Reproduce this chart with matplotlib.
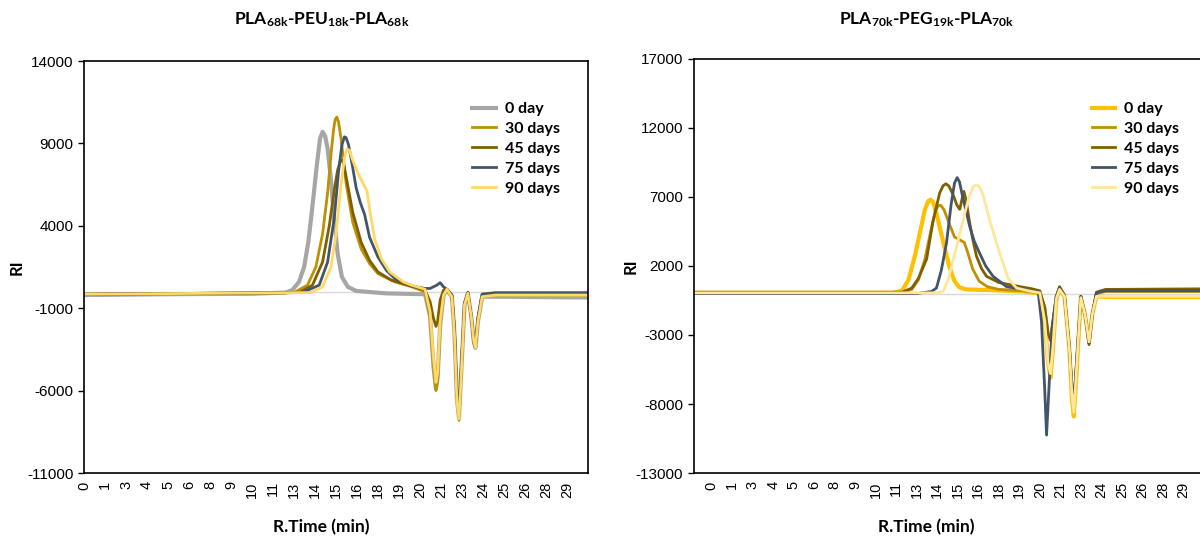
import numpy as np
import matplotlib.pyplot as plt

plt.rcParams['font.family'] = ['Liberation Sans', 'DejaVu Sans']
plt.rcParams['mathtext.default'] = 'regular'
plt.rcParams['axes.unicode_minus'] = False

labels = ['0 day', '30 days', '45 days', '75 days', '90 days']

# ---- left chart: PLA68k-PEU18k-PLA68k  (time in min, RI)
L0_t = [0, 5, 10, 12.0, 12.4, 12.8, 13.1, 13.35, 13.6, 13.85, 14.05, 14.2, 14.35, 14.5, 14.7, 14.9, 15.1, 15.35, 15.7, 16.2, 18, 20.3,
        20.6, 20.8, 20.95, 21.05, 21.2, 21.4, 21.6, 21.9, 22.05, 22.2, 22.32, 22.45, 22.65, 22.85, 23.05, 23.2, 23.3, 23.45, 23.7, 24.5, 30]
L0_v = [-200, -150, -120, -50, 100, 600, 1500, 3000, 5200, 7600, 9300, 9700, 9450, 8700, 6800, 4300, 2300, 900, 300, 50, -100, -150,
        -1500, -4500, -5900, -5200, -2000, -200, 100, -300, -2500, -6500, -7600, -5000, -800, -100, -1500, -3000, -3400, -1800, -300, -300, -350]

L30_t = [0, 10, 12.5, 13.3, 13.8, 14.2, 14.5, 14.7, 14.85, 14.95, 15.05, 15.15, 15.3, 15.6, 16.0, 16.5, 17.0, 17.5, 18.5, 19.5, 20.3,
         20.6, 20.8, 20.95, 21.05, 21.2, 21.4, 21.6, 21.9, 22.05, 22.2, 22.32, 22.45, 22.65, 22.85, 23.05, 23.2, 23.3, 23.45, 23.7, 24.5, 30]
L30_v = [-150, -100, -50, 400, 1500, 3500, 6000, 8300, 9800, 10450, 10600, 10300, 9300, 6600, 4200, 2600, 1700, 1100, 600, 300, 0,
         -1500, -4500, -6000, -5300, -2000, -200, 150, -300, -2500, -6700, -7800, -5000, -800, -100, -1500, -2900, -3300, -1800, -300, -200, -200]

L45_t = [0, 12.8, 13.6, 14.2, 14.6, 14.9, 15.1, 15.25, 15.35, 15.45, 15.6, 16.0, 16.5, 17.0, 17.5, 18.3, 19.0, 19.5, 20.3,
         20.6, 20.8, 20.95, 21.05, 21.2, 21.4, 21.6, 21.9, 22.05, 22.2, 22.32, 22.45, 22.65, 22.85, 23.05, 23.2, 23.3, 23.45, 23.7, 24.5, 30]
L45_v = [-150, -50, 400, 1800, 4000, 6200, 7400, 7900, 8000, 7800, 7000, 4800, 3000, 1900, 1200, 700, 500, 350, 100,
         -600, -1600, -2100, -1800, -500, 100, 150, -200, -2300, -6300, -7300, -4800, -700, -50, -1500, -2900, -3200, -1600, -150, -50, -50]

L75_t = [0, 13.0, 14.0, 14.5, 14.9, 15.15, 15.35, 15.5, 15.6, 15.75, 15.95, 16.2, 16.45, 16.7, 17.0, 17.5, 18.0, 18.5, 19.5, 20.3,
         20.6, 21.0, 21.2, 21.4, 21.6, 21.9, 22.05, 22.2, 22.32, 22.45, 22.65, 22.85, 23.05, 23.2, 23.3, 23.45, 23.7, 24.5, 30]
L75_v = [-150, -50, 400, 1800, 4500, 7300, 8900, 9400, 9350, 8900, 7800, 6300, 5400, 4700, 3300, 2100, 1300, 800, 350, 200,
         200, 400, 550, 300, 150, -200, -2300, -6300, -7300, -4800, -700, -50, -1500, -3100, -3400, -1600, -150, -100, -100]

L90_t = [0, 13.5, 14.2, 14.7, 15.0, 15.3, 15.5, 15.65, 15.8, 15.95, 16.3, 16.6, 16.85, 17.0, 17.3, 17.7, 18.2, 19.0, 19.5, 20.3,
         20.6, 20.8, 20.95, 21.05, 21.2, 21.4, 21.6, 21.9, 22.05, 22.2, 22.32, 22.45, 22.65, 22.85, 23.05, 23.2, 23.3, 23.45, 23.7, 24.5, 30]
L90_v = [-150, -50, 300, 1500, 3500, 6500, 8100, 8650, 8600, 8100, 7200, 6600, 6100, 5000, 3200, 2000, 1200, 600, 400, 150,
         -1200, -4000, -5500, -4900, -1800, -200, 150, -300, -2600, -6700, -7700, -5200, -800, -100, -1500, -3000, -3400, -1800, -300, -200, -200]

# ---- right chart: PLA70k-PEG19k-PLA70k
R0_t = [-1.1, 5, 11.0, 11.6, 12.0, 12.4, 12.8, 13.0, 13.2, 13.35, 13.5, 13.7, 13.9, 14.2, 14.5, 14.8, 15.1, 15.5, 17, 19.0, 20.0,
        20.3, 20.5, 20.65, 20.8, 21.0, 21.2, 21.5, 21.8, 21.95, 22.07, 22.2, 22.5, 22.75, 23.0, 23.2, 23.45, 24, 31]
R0_v = [50, 50, 50, 200, 1000, 2800, 5000, 6100, 6700, 6800, 6600, 5800, 4800, 3300, 1900, 900, 450, 300, 250, 150, 0,
        -2000, -5000, -6100, -4000, -500, 300, -200, -4000, -7500, -8900, -6500, -300, -1500, -3500, -1500, -200, -250, -250]

R30_t = [-1.1, 11.5, 12.2, 12.6, 13.0, 13.4, 13.65, 13.8, 13.95, 14.15, 14.5, 14.8, 15.1, 15.4, 15.6, 15.9, 16.3, 16.8, 17.5, 19.0, 20.0,
         20.3, 20.5, 20.65, 20.8, 21.0, 21.2, 21.5, 21.8, 21.95, 22.07, 22.2, 22.5, 22.75, 23.0, 23.2, 23.45, 24, 31]
R30_v = [50, 50, 300, 1000, 2500, 4800, 6000, 6350, 6400, 6100, 5000, 4100, 3900, 3700, 3000, 1800, 900, 500, 300, 200, 50,
         -1000, -2800, -3300, -2000, -200, 400, -200, -4000, -6800, -8000, -5800, -300, -1500, -3600, -1500, 0, 150, 150]

R45_t = [-1.1, 11.6, 12.2, 12.6, 13.1, 13.5, 13.9, 14.1, 14.27, 14.45, 14.7, 14.95, 15.12, 15.25, 15.37, 15.5, 15.7, 15.9, 16.14, 16.45, 16.75, 17.5, 18.8, 19.5, 20.0,
         20.3, 20.5, 20.65, 20.8, 21.0, 21.2, 21.5, 21.8, 21.95, 22.07, 22.2, 22.5, 22.75, 23.0, 23.2, 23.45, 24, 31]
R45_v = [100, 100, 400, 1100, 2500, 5300, 7300, 7800, 7950, 7800, 7200, 6400, 6100, 6800, 7400, 6800, 5300, 4000, 2700, 1800, 1250, 800, 500, 350, 200,
         -1000, -2900, -3400, -2000, -200, 500, -100, -3800, -6700, -7800, -5700, -200, -1500, -3700, -1500, 100, 300, 350]

R75_t = [-1.1, 12.5, 13.4, 13.7, 14.0, 14.31, 14.6, 14.8, 14.96, 15.1, 15.3, 15.73, 16.0, 16.34, 16.7, 17.15, 17.97, 19.0, 19.9,
         20.1, 20.3, 20.41, 20.55, 20.75, 21.0, 21.2, 21.5, 21.8, 21.95, 22.07, 22.2, 22.5, 22.75, 23.0, 23.2, 23.45, 24, 31]
R75_v = [0, 0, 150, 400, 1700, 3650, 6500, 8000, 8400, 8100, 7000, 4850, 3800, 2900, 2000, 1250, 500, 300, 100,
         -2000, -7000, -10250, -7000, -2500, -300, 400, -200, -3900, -6800, -7900, -5700, -200, -1500, -3600, -1500, 50, 200, 200]

R90_t = [-1.1, 13.7, 14.1, 14.41, 14.82, 15.32, 15.7, 15.95, 16.14, 16.35, 16.55, 16.95, 17.56, 18.07, 18.58, 19.3, 20.0,
         20.3, 20.5, 20.65, 20.8, 21.0, 21.2, 21.5, 21.8, 21.95, 22.07, 22.2, 22.5, 22.75, 23.0, 23.2, 23.45, 24, 31]
R90_v = [50, 50, 150, 1000, 2900, 5300, 7100, 7750, 7870, 7700, 7100, 5300, 2900, 1100, 400, 200, 50,
         -2000, -5000, -5800, -3800, -400, 300, -200, -4000, -7200, -8600, -6200, -300, -1500, -3500, -1500, -200, -200, -200]

left_series = [(L0_t, L0_v), (L30_t, L30_v), (L45_t, L45_v), (L75_t, L75_v), (L90_t, L90_v)]
right_series = [(R0_t, R0_v), (R30_t, R30_v), (R45_t, R45_v), (R75_t, R75_v), (R90_t, R90_v)]
left_colors = ['#a6a6a6', '#bf9000', '#7f6000', '#44546a', '#ffd966']
right_colors = ['#ffc000', '#bf9000', '#7f6000', '#44546a', '#ffe699']
widths = [3.0, 2.0, 2.0, 2.0, 2.0]

xticks = np.arange(0, 30, 1.25)
xticklabels = [str(int(np.floor(v + 0.5))) for v in xticks]

fig = plt.figure(figsize=(12, 5.4), dpi=100)
ax1 = fig.add_axes([0.070, 0.124, 0.420, 0.763])
ax2 = fig.add_axes([0.578, 0.124, 0.428, 0.767])

def setup(ax, series, colors, ylim, yticks, xlim, title, tx, legx, ylab_x):
    ax.axhline(0, color='#d9d9d9', lw=1, zorder=1)
    for (t, v), c, w, lab in zip(series, colors, widths, labels):
        ax.plot(t, v, color=c, lw=w, label=lab, zorder=2, solid_joinstyle='round')
    ax.set_xlim(*xlim)
    ax.set_ylim(*ylim)
    ax.set_yticks(yticks)
    ax.set_xticks(xticks)
    ax.set_xticklabels(xticklabels, rotation=90, fontsize=10.5)
    ax.tick_params(axis='x', length=0, pad=6)
    ax.tick_params(axis='y', length=4, width=1, labelsize=11, direction='out')
    for s in ax.spines.values():
        s.set_linewidth(1.2)
        s.set_color('black')
    ax.set_ylabel('RI', fontsize=12, fontweight='bold', family='Lato')
    ax.yaxis.set_label_coords(ylab_x, 0.5)
    fig.text(tx, 0.015, 'R.Time (min)', ha='center', fontsize=12.5, fontweight='bold', family='Lato')
    fig.text(tx, 0.955, title, ha='center', fontsize=12.5, fontweight='bold', family='Lato')
    ax.legend(loc='upper left', bbox_to_anchor=(legx, 0.826), bbox_transform=fig.transFigure,
              frameon=False, prop={'family': 'Lato', 'weight': 'bold', 'size': 11.5},
              handlelength=1.45, handletextpad=0.6, labelspacing=0.36, borderpad=0)

setup(ax1, left_series, left_colors, (-11000, 14000), np.arange(-11000, 14001, 5000), (0, 30),
      r'PLA$_{68k}$-PEU$_{18k}$-PLA$_{68k}$', 0.268, 0.387, -0.118)
setup(ax2, right_series, right_colors, (-13000, 17000), np.arange(-13000, 17001, 5000), (-1.1, 30.2),
      r'PLA$_{70k}$-PEG$_{19k}$-PLA$_{70k}$', 0.772, 0.903, -0.108)

fig.savefig('out.png', dpi=100)
